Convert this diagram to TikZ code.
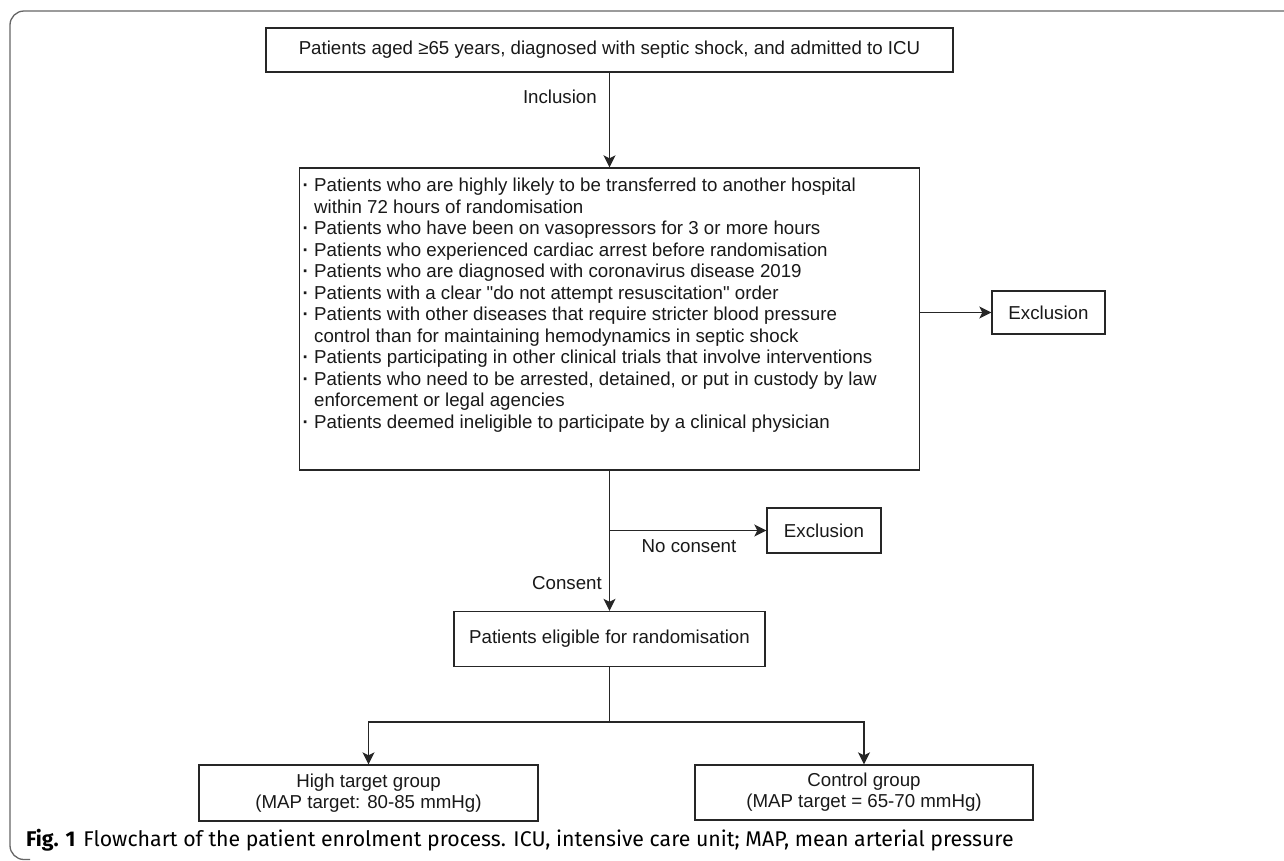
\documentclass[tikz,border=0pt]{standalone}
\usepackage{fontspec}
\setmainfont{Liberation Sans}[Ligatures=TeXOff]
\newfontfamily\capfont{Fira Sans}
\usetikzlibrary{arrows.meta}
\newcommand{\bul}{\makebox[14pt][l]{\hspace{2.5pt}\textbf{·}}}
\newcommand{\hang}{\hspace*{14pt}}
\begin{document}
\begin{tikzpicture}[x=1pt,y=-1pt,
  box/.style={draw=black!85, line width=1.4pt, inner sep=0pt, align=center, text=black!90, font=\fontsize{18.7}{21}\selectfont},
  conn/.style={line width=1.4pt, draw=black!85},
  arr/.style={conn, -{Stealth[length=12pt,width=12pt,inset=3pt]}},
  lbl/.style={font=\fontsize{18.7}{21}\selectfont, inner sep=0pt, text=black!90}]
\useasboundingbox (0,0) rectangle (1284,860);
\fill[white] (0,0) rectangle (1284,860);
\draw[line width=1.3pt, draw=black!60, rounded corners=14pt] (30,859.5) -- (10,859.5) -- (10,11) -- (1300,11);

\node[box, minimum width=687pt, minimum height=44pt] (top) at (609.5,50) {Patients aged ≥65 years, diagnosed with septic shock, and admitted to ICU};

\node[box, minimum width=620pt, minimum height=302pt] (crit) at (609.5,319) {};
\node[anchor=north west, inner sep=0pt, align=left, text=black!90, font=\fontsize{18.7}{21.5}\selectfont] (crittext) at (300,178) {%
\bul Patients who are highly likely to be transferred to another hospital\\
\hang within 72 hours of randomisation\\
\bul Patients who have been on vasopressors for 3 or more hours\\
\bul Patients who experienced cardiac arrest before randomisation\\
\bul Patients who are diagnosed with coronavirus disease 2019\\
\bul Patients with a clear "do not attempt resuscitation" order\\
\bul Patients with other diseases that require stricter blood pressure\\
\hang control than for maintaining hemodynamics in septic shock\\
\bul Patients participating in other clinical trials that involve interventions\\
\bul Patients who need to be arrested, detained, or put in custody by law\\
\hang enforcement or legal agencies\\
\bul Patients deemed ineligible to participate by a clinical physician};

\node[box, minimum width=113pt, minimum height=43pt] (ex1) at (1048.5,312.5) {Exclusion};
\node[box, minimum width=311pt, minimum height=55pt] (elig) at (609.5,639) {Patients eligible for randomisation};
\node[box, minimum width=114pt, minimum height=45pt] (ex2) at (824,530.5) {Exclusion};
\node[box, minimum width=339pt, minimum height=56pt] (high) at (368.5,793) {High target group\\(MAP target: 80-85 mmHg)};
\node[box, minimum width=338pt, minimum height=55pt] (ctrl) at (864,792.5) {Control group\\(MAP target = 65-70 mmHg)};

\node[lbl, anchor=east] (inc) at (597,97) {Inclusion};
\node[lbl] (nocons) at (689,546) {No consent};
\node[lbl, anchor=east] (cons) at (602,583) {Consent};

\coordinate (split) at (609.5,722);

\draw[arr] (top.south) -- (crit.north);
\draw[arr] (crit.east |- ex1.west) -- (ex1.west);
\draw[arr] (crit.south) -- (elig.north);
\draw[arr] (crit.south |- ex2.west) -- (ex2.west);
\draw[conn] (elig.south) -- (split);
\draw[arr] (split) -| (high.north);
\draw[arr] (split) -| (ctrl.north);

\node[anchor=base west, inner sep=0pt, font=\capfont\fontsize{21.3}{23}\selectfont] (cap) at (26,846) {\textbf{Fig. 1}\hspace{8pt}Flowchart of the patient enrolment process. ICU, intensive care unit; MAP, mean arterial pressure};
\end{tikzpicture}
\end{document}
